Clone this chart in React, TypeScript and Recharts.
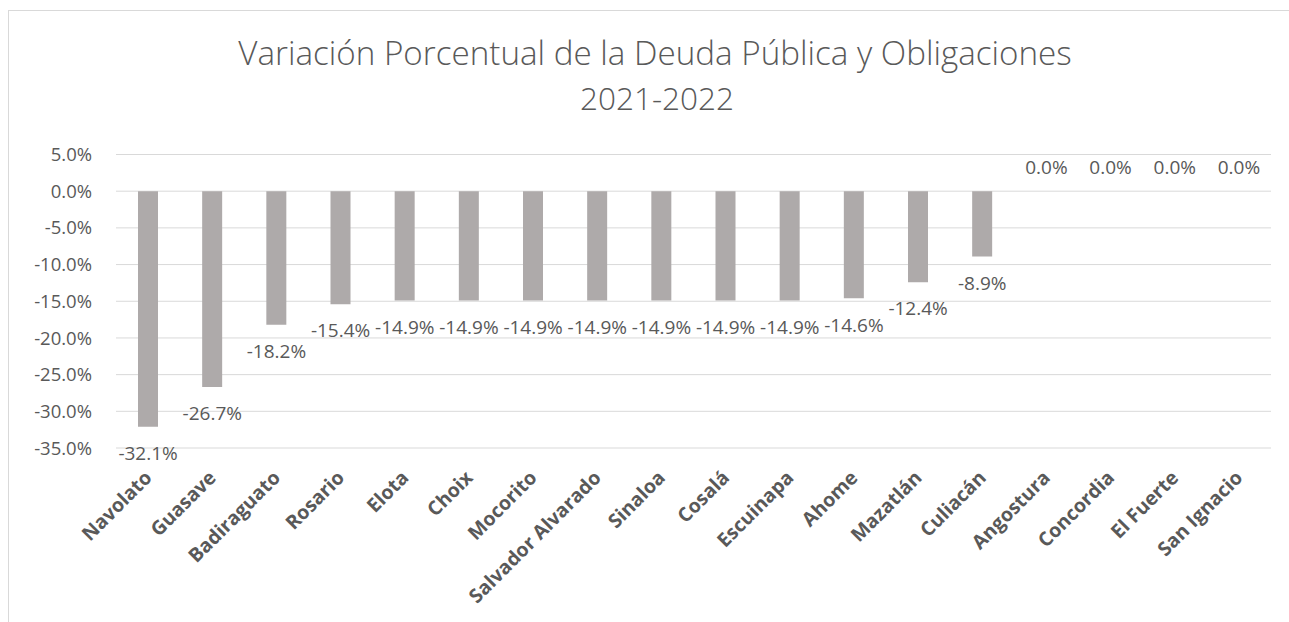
import React from "react";
import { ComposedChart, Bar, Line, XAxis, YAxis, CartesianGrid, LabelList } from "recharts";

const categories = [
  "Navolato", "Guasave", "Badiraguato", "Rosario", "Elota", "Choix", "Mocorito",
  "Salvador Alvarado", "Sinaloa", "Cosalá", "Escuinapa", "Ahome", "Mazatlán",
  "Culiacán", "Angostura", "Concordia", "El Fuerte", "San Ignacio",
];
const variation = [
  -32.1, -26.7, -18.2, -15.4, -14.9, -14.9, -14.9, -14.9, -14.9, -14.9, -14.9,
  -14.6, -12.4, -8.9, 0.0, 0.0, 0.0, 0.0,
];
const yTicks = [5, 0, -5, -10, -15, -20, -25, -30, -35];
const titleLines = ["Variación Porcentual de la Deuda Pública y Obligaciones", "2021-2022"];

const data = categories.map((name, i) => ({ name, value: variation[i] }));

const TEXT = "#595959";
const FONT = "'Open Sans', 'DejaVu Sans', sans-serif";

const fmt = (v: number) => `${v.toFixed(1)}%`;

const XTick = (props: any) => {
  const { x, y, payload } = props;
  return (
    <text
      transform={`translate(${x + 5},${y + 31}) rotate(-45)`}
      textAnchor="end"
      fill={TEXT}
      fontFamily={FONT}
      fontWeight={700}
      fontSize={19.5}
    >
      {payload.value}
    </text>
  );
};

const ValueLabel = (props: any) => {
  const { x, y, value } = props;
  const v = Number(value);
  const ly = v < 0 ? Number(y) + 26.5 : Number(y) - 23.5;
  return (
    <text x={Number(x)} y={ly} dy="0.355em" textAnchor="middle" fill={TEXT} fontFamily={FONT} fontSize={19}>
      {fmt(v)}
    </text>
  );
};

export default function App() {
  return (
    <div
      style={{
        position: "absolute",
        left: 8,
        top: 10,
        width: 1281,
        height: 612,
        borderLeft: "1px solid #D9D9D9",
        borderTop: "1px solid #D9D9D9",
        boxSizing: "border-box",
        background: "#fff",
        overflow: "hidden",
      }}
    >
      <ComposedChart
        width={1280}
        height={611}
        data={data}
        margin={{ top: 143.5, right: 18, left: 0, bottom: 0 }}
      >
        <CartesianGrid vertical={false} stroke="#D9D9D9" strokeWidth={1} />
        <XAxis
          dataKey="name"
          axisLine={false}
          tickLine={false}
          tickSize={0}
          tickMargin={0}
          height={174}
          interval={0}
          tick={<XTick />}
        />
        <YAxis
          domain={[-35, 5]}
          ticks={yTicks}
          width={107}
          axisLine={false}
          tickLine={false}
          tickSize={0}
          tickMargin={24}
          tickFormatter={fmt}
          tick={{ fill: TEXT, fontFamily: FONT, fontSize: 18.5 }}
          interval={0}
        />
        <Bar dataKey="value" fill="#AEAAAA" barSize={20} isAnimationActive={false} />
        <Line
          dataKey="value"
          stroke="none"
          dot={false}
          activeDot={false}
          legendType="none"
          isAnimationActive={false}
        >
          <LabelList dataKey="value" content={<ValueLabel />} />
        </Line>
      </ComposedChart>
      <svg
        width={1280}
        height={130}
        style={{ position: "absolute", left: 0, top: 0, pointerEvents: "none" }}
      >
        <text x={646} y={54} textAnchor="middle" fill={TEXT} fontFamily={FONT} fontWeight={300} fontSize={33.2}>
          {titleLines[0]}
        </text>
        <text x={648} y={99} textAnchor="middle" fill={TEXT} fontFamily={FONT} fontWeight={300} fontSize={31.5}>
          {titleLines[1]}
        </text>
      </svg>
    </div>
  );
}
